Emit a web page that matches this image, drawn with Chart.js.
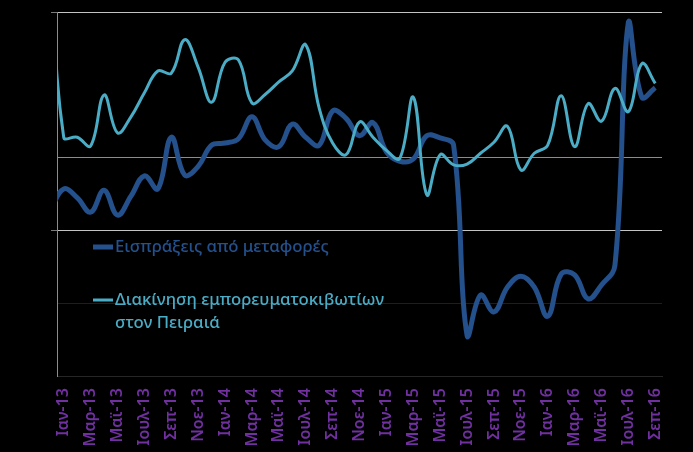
<!DOCTYPE html>
<html>
<head>
<meta charset="utf-8">
<script src="https://cdn.jsdelivr.net/npm/chart.js@4/dist/chart.umd.min.js"></script>
<style>
html,body{margin:0;padding:0;background:#000;}
#wrap{position:relative;width:693px;height:452px;background:#000;}
</style>
</head>
<body>
<div id="wrap"><canvas id="c" width="693" height="452"></canvas></div>
<script>
// Month categories (first one lies just left of the visible axis range)
const months = [
  'Δεκ-12',
  'Ιαν-13','Φεβ-13','Μαρ-13','Απρ-13','Μαϊ-13','Ιουν-13','Ιουλ-13','Αυγ-13','Σεπ-13','Οκτ-13','Νοε-13','Δεκ-13',
  'Ιαν-14','Φεβ-14','Μαρ-14','Απρ-14','Μαϊ-14','Ιουν-14','Ιουλ-14','Αυγ-14','Σεπ-14','Οκτ-14','Νοε-14','Δεκ-14',
  'Ιαν-15','Φεβ-15','Μαρ-15','Απρ-15','Μαϊ-15','Ιουν-15','Ιουλ-15','Αυγ-15','Σεπ-15','Οκτ-15','Νοε-15','Δεκ-15',
  'Ιαν-16','Φεβ-16','Μαρ-16','Απρ-16','Μαϊ-16','Ιουν-16','Ιουλ-16','Αυγ-16','Σεπ-16'
];
const firstShownMonth = 'Ιαν-13';

// Series names
const nameReceipts = 'Εισπράξεις από μεταφορές';
const nameContainers = 'Διακίνηση εμπορευματοκιβωτίων στον Πειραιά';

// Series values
const receipts = [
  -7.2,
  -4.3, -5.5, -7.5, -4.5, -7.9, -5.3, -2.5, -4.3, 2.8, -2.4, -1.2, 1.7,
  2.0, 2.6, 5.6, 2.4, 1.5, 4.6, 2.8, 1.7, 6.4, 5.4, 3.0, 4.8,
  0.8, -0.5, -0.2, 3.0, 2.7, 1.7, -24.4, -18.9, -21.2, -17.8, -16.3, -17.8,
  -21.8, -16.0, -16.1, -19.4, -17.5, -14.8, 18.6, 8.3, 9.6
];
const containers = [
  28.0,
  2.8, 2.8, 1.6, 8.6, 3.4, 5.6, 8.9, 11.9, 11.6, 16.2, 12.4, 7.6,
  13.1, 13.4, 7.5, 8.7, 10.4, 11.9, 15.5, 6.8, 2.0, 0.4, 4.9, 2.8,
  1.0, -0.1, 8.3, -5.1, 0.4, -1.0, -0.9, 0.6, 2.1, 4.3, -1.7, 0.6,
  1.7, 8.5, 1.5, 7.4, 5.0, 9.5, 6.3, 12.9, 10.2
];

// Value axis
const yMin = -30, yMax = 20, yStep = 10;

const COLOR_DARK = '#24508c';
const COLOR_LIGHT = '#4bacc6';
const LABEL_COLOR = '#7030a0';

const gridColorFor = v => {
  if (v === 20 || v === -10) return '#c4c4c4';
  if (v === 0) return '#8c8c8c';
  if (v === 10) return 'rgba(0,0,0,0)';
  return '#1e1e1e';
};

const inlineLegend = {
  id: 'inlineLegend',
  afterDatasetsDraw(chart) {
    const {ctx, chartArea} = chart;
    const x0 = chartArea.left + 36;
    const items = [
      {ds: chart.data.datasets[0], y: chartArea.top + 235},
      {ds: chart.data.datasets[1], y: chartArea.top + 288}
    ];
    ctx.save();
    let size = 15;
    ctx.font = '500 ' + size + 'px "Noto Sans"';
    const w = ctx.measureText(nameReceipts).width;
    size = size * 214 / w;
    ctx.font = '500 ' + size + 'px "Noto Sans"';
    ctx.textBaseline = 'middle';
    ctx.textAlign = 'left';
    items.forEach(it => {
      ctx.strokeStyle = it.ds.borderColor;
      ctx.lineWidth = it.ds.borderWidth;
      ctx.lineCap = 'butt';
      ctx.beginPath();
      ctx.moveTo(x0, it.y);
      ctx.lineTo(x0 + 20, it.y);
      ctx.stroke();
      ctx.fillStyle = it.ds.borderColor;
      const words = it.ds.label.split(' ');
      const lines = [];
      let cur = '';
      words.forEach(wd => {
        const t = cur ? cur + ' ' + wd : wd;
        if (ctx.measureText(t).width > 280 && cur) { lines.push(cur); cur = wd; }
        else cur = t;
      });
      lines.push(cur);
      lines.forEach((ln, k) => ctx.fillText(ln, x0 + 22, it.y + k * 23));
    });
    ctx.restore();
  }
};

new Chart(document.getElementById('c'), {
  type: 'line',
  data: {
    labels: months,
    datasets: [
      {
        label: nameReceipts,
        data: receipts,
        borderColor: COLOR_DARK,
        backgroundColor: COLOR_DARK,
        borderWidth: 5,
        pointRadius: 0,
        tension: 0.4,
        order: 2
      },
      {
        label: nameContainers,
        data: containers,
        borderColor: COLOR_LIGHT,
        backgroundColor: COLOR_LIGHT,
        borderWidth: 3,
        pointRadius: 0,
        tension: 0.4,
        order: 1
      }
    ]
  },
  options: {
    responsive: false,
    animation: false,
    layout: {padding: {left: 51, right: 31, top: 12, bottom: 0}},
    plugins: {legend: {display: false}, tooltip: {enabled: false}},
    scales: {
      x: {
        type: 'category',
        min: firstShownMonth,
        offset: true,
        grid: {display: false, drawTicks: false},
        border: {display: true, color: '#262626', width: 1},
        ticks: {
          autoSkip: false,
          maxRotation: 90,
          minRotation: 90,
          padding: 12,
          color: LABEL_COLOR,
          font: {family: '"Noto Sans"', size: 16, weight: '600'},
          callback: function(value) {
            return (value % 2 === 1) ? this.getLabelForValue(value) : '';
          }
        },
        afterFit: s => { s.height = 76; }
      },
      y: {
        min: yMin,
        max: yMax,
        ticks: {display: false, stepSize: yStep},
        grid: {
          color: c => gridColorFor(c.tick.value),
          tickColor: c => (c.tick.value === 20 || c.tick.value === -10) ? '#7a7a7a' : 'rgba(0,0,0,0)',
          tickLength: 6,
          drawTicks: true,
          lineWidth: 1
        },
        border: {display: true, color: '#8c8c8c', width: 1},
        afterFit: s => { s.width = 6; }
      }
    }
  },
  plugins: [inlineLegend]
});
</script>
</body>
</html>
